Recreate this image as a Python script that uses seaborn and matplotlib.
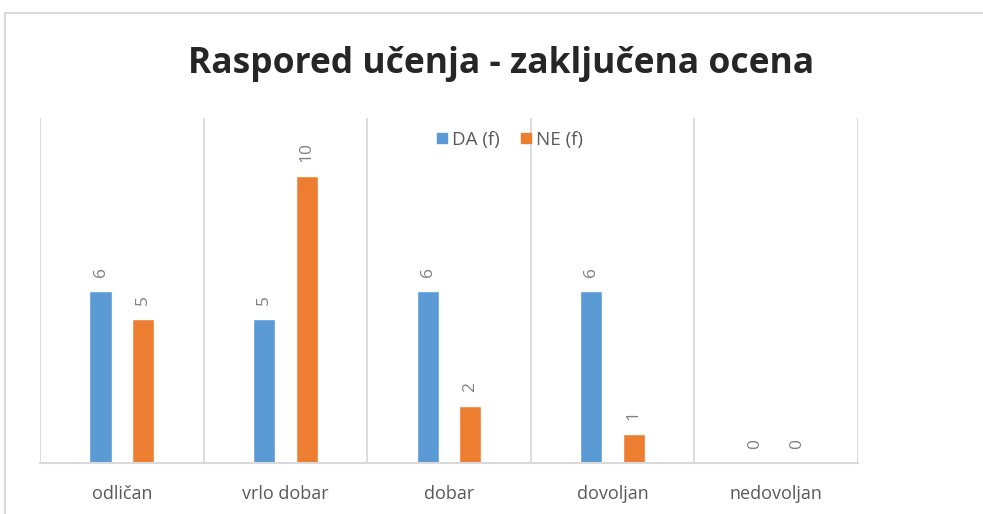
import pandas as pd
import seaborn as sns
import matplotlib.pyplot as plt
from matplotlib.lines import Line2D

categories = ["odličan", "vrlo dobar", "dobar", "dovoljan", "nedovoljan"]
da_values = [6, 5, 6, 6, 0]
ne_values = [5, 10, 2, 1, 0]
series = ["DA (f)", "NE (f)"]

data = pd.DataFrame({
    "ocena": categories * 2,
    "serija": [series[0]] * len(categories) + [series[1]] * len(categories),
    "f": da_values + ne_values,
})

sns.set_style("white")
plt.rcParams['font.family'] = ['Open Sans', 'DejaVu Sans']

fig = plt.figure(figsize=(9.83, 5.14), dpi=100)
ax = fig.add_axes([40 / 983, 51 / 514, 818 / 983, 345 / 514])

palette = {"DA (f)": "#5b9bd5", "NE (f)": "#ed7d31"}
sns.barplot(data=data, x="ocena", y="f", hue="serija", palette=palette,
            width=0.52, gap=0.48, dodge=True, legend=False, ax=ax,
            saturation=1, order=categories, hue_order=series)

for cont in ax.containers:
    ax.bar_label(cont, rotation=90, padding=10, fontsize=12.5, color="#808080")

ax.set_ylim(0, 12)
ax.set_xlim(-0.5, 4.5)
ax.set_xticks([i + 0.5 for i in range(-1, 5)], minor=True)
ax.grid(True, which="minor", axis="x", color="#d9d9d9", lw=1.3)
ax.grid(False, which="major")
ax.set_yticks([])
ax.set_xlabel("")
ax.set_ylabel("")
for s in ["top", "right", "left"]:
    ax.spines[s].set_visible(False)
ax.spines["bottom"].set_color("#d9d9d9")
ax.spines["bottom"].set_linewidth(1.5)
ax.tick_params(axis="x", which="both", length=0, pad=16, labelsize=13, labelcolor="#595959")

handles = [Line2D([], [], marker="s", ls="", color=palette[s], markersize=7.5) for s in series]
fig.legend(handles, series, loc="center", bbox_to_anchor=(508 / 983, 1 - 140 / 514),
           ncol=2, frameon=False, fontsize=13.5, labelcolor="#595959",
           handletextpad=0.05, columnspacing=0.9, handlelength=1.0)

fig.text(501 / 983, 1 - 64 / 514, "Raspored učenja - zaključena ocena",
         ha="center", va="center", fontsize=25.5, fontweight="bold", color="#262626")

fig.add_artist(Line2D([5 / 983, 5 / 983], [0, 1 - 13 / 514], transform=fig.transFigure,
                      color="#d9d9d9", lw=1.5))
fig.add_artist(Line2D([5 / 983, 1], [1 - 13 / 514, 1 - 13 / 514], transform=fig.transFigure,
                      color="#d9d9d9", lw=1.5))

plt.savefig("out.png", dpi=100)
